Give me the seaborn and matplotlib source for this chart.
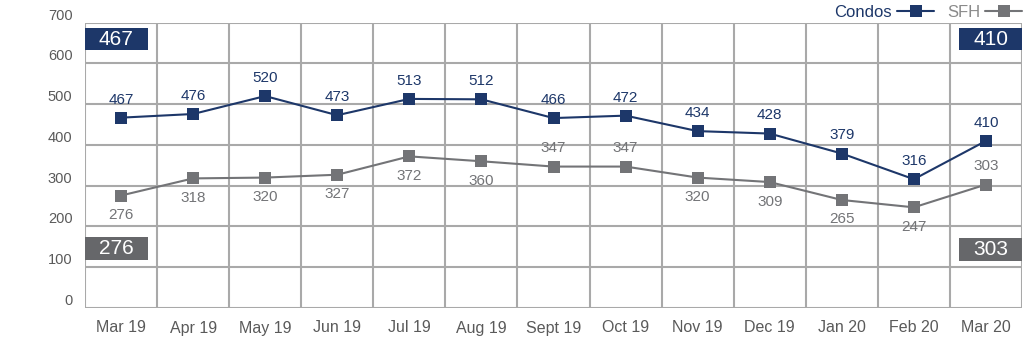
import matplotlib
matplotlib.use("Agg")
import matplotlib.pyplot as plt
import seaborn as sns
import pandas as pd
import numpy as np
from matplotlib.patches import Rectangle
from matplotlib.lines import Line2D

months = ["Mar 19", "Apr 19", "May 19", "Jun 19", "Jul 19", "Aug 19", "Sept 19",
          "Oct 19", "Nov 19", "Dec 19", "Jan 20", "Feb 20", "Mar 20"]
condos = [467, 476, 520, 473, 513, 512, 466, 472, 434, 428, 379, 316, 410]
sfh = [276, 318, 320, 327, 372, 360, 347, 347, 320, 309, 265, 247, 303]
sfh_label_above = [False, False, False, False, False, False, True, True, False, False, False, False, True]
y_ticks = [0, 100, 200, 300, 400, 500, 600, 700]

NAVY = "#1d3769"
GRAY = "#737477"
GRID = "#a9a9a9"
TXT = "#5a5a5a"

sns.set_theme(style="white")
plt.rcParams['font.family'] = ['Liberation Sans', 'DejaVu Sans']

idx = np.arange(len(months))
df = pd.DataFrame({"i": np.concatenate([idx, idx]),
                   "v": condos + sfh,
                   "s": ["Condos"] * len(months) + ["SFH"] * len(months)})

fig = plt.figure(figsize=(10.24, 3.43), dpi=100)
ax = fig.add_axes([85/1024, 1 - 308/343, 937/1024, (308 - 22.7)/343])

for yv in y_ticks:
    ax.axhline(yv, color=GRID, lw=1.5, zorder=0)
for xv in np.arange(-0.5, len(months), 1.0):
    ax.axvline(xv, color=GRID, lw=1.5, zorder=0)

sns.lineplot(data=df, x="i", y="v", hue="s", palette={"Condos": NAVY, "SFH": GRAY},
             marker="s", markersize=9, markeredgewidth=0, linewidth=1.5, ax=ax,
             legend=False, zorder=3)

for i, v in enumerate(condos):
    ax.annotate(str(v), (i, v), xytext=(0, 8), textcoords="offset points",
                ha="center", va="bottom", fontsize=11, color=NAVY)
for i, (v, above) in enumerate(zip(sfh, sfh_label_above)):
    if above:
        ax.annotate(str(v), (i, v), xytext=(0, 8), textcoords="offset points",
                    ha="center", va="bottom", fontsize=11, color=GRAY)
    else:
        ax.annotate(str(v), (i, v), xytext=(0, -9), textcoords="offset points",
                    ha="center", va="top", fontsize=11, color=GRAY)

n = len(months)
box_w = 0.87
for (xl, val, color, y0) in [(-0.5, condos[0], NAVY, 633), (n - 0.5 - box_w, condos[-1], NAVY, 633),
                             (-0.5, sfh[0], "#66676a", 118), (n - 0.5 - box_w, sfh[-1], "#66676a", 116)]:
    ax.add_patch(Rectangle((xl, y0), box_w, 55, facecolor=color, edgecolor="none", zorder=4))
    ax.text(xl + box_w / 2, y0 + 27, str(val), ha="center", va="center",
            color="white", fontsize=15, zorder=5)

ax.set_xlim(-0.5, n - 0.5)
ax.set_ylim(0, 700)
ax.set_xticks(idx)
ax.set_xticklabels(months)
ax.set_yticks(y_ticks)
ax.tick_params(axis="x", length=0, pad=9, labelsize=11.5, labelcolor=TXT)
ax.tick_params(axis="y", length=0, pad=9, labelsize=10.5, labelcolor=TXT)
for lab in ax.get_yticklabels():
    lab.set_va("bottom")
ax.set_xlabel("")
ax.set_ylabel("")
for s in ax.spines.values():
    s.set_visible(False)

handles = [Line2D([], [], color=NAVY, marker="s", markersize=8, markeredgewidth=0, lw=1.5),
           Line2D([], [], color=GRAY, marker="s", markersize=8, markeredgewidth=0, lw=1.5)]
leg = ax.legend(handles, ["Condos", "SFH"], loc="lower right", bbox_to_anchor=(1.0, 1.01),
                ncol=2, frameon=False, markerfirst=False, fontsize=12, handlelength=2.2,
                columnspacing=0.8, handletextpad=0.3, borderaxespad=0, borderpad=0)
leg.get_texts()[0].set_color(NAVY)
leg.get_texts()[1].set_color("#8a8a8a")

fig.savefig("out.png", dpi=100)
